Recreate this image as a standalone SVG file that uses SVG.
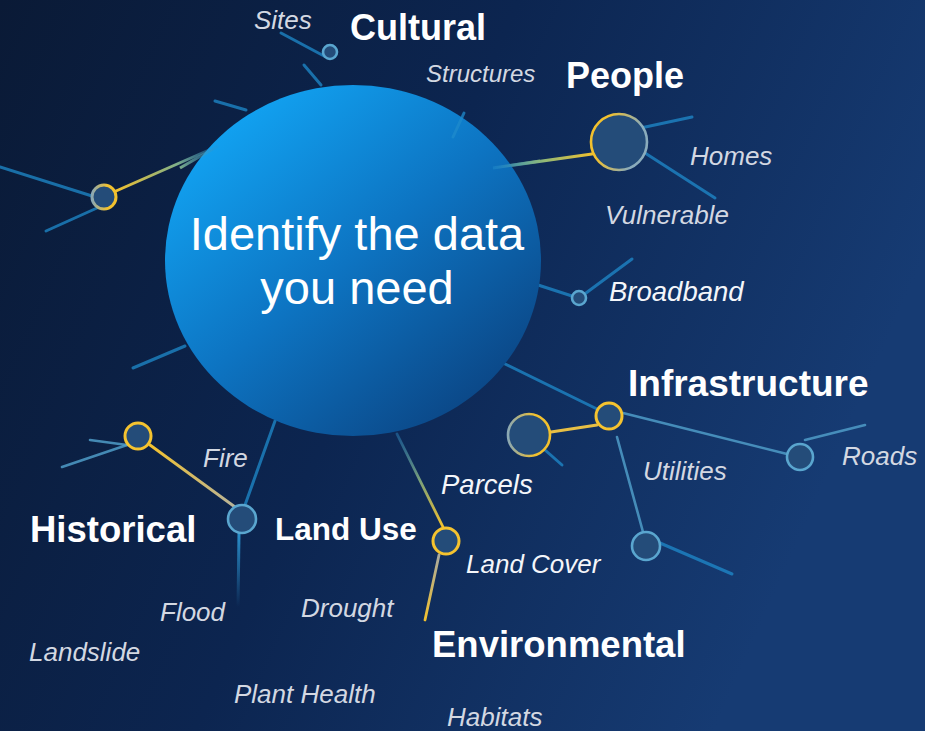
<svg xmlns="http://www.w3.org/2000/svg" width="925" height="731" viewBox="0 0 925 731">
<defs>
<linearGradient id="bg" x1="0" y1="0" x2="1" y2="0.35">
<stop offset="0" stop-color="#0a1a36"/>
<stop offset="0.5" stop-color="#0c2550"/>
<stop offset="1" stop-color="#163b73"/>
</linearGradient>
<linearGradient id="hub" x1="0.12" y1="0.08" x2="0.85" y2="0.92">
<stop offset="0" stop-color="#12a6f5"/>
<stop offset="0.5" stop-color="#0d74c2"/>
<stop offset="1" stop-color="#0b4584"/>
</linearGradient>
<linearGradient id="gLeft" gradientUnits="userSpaceOnUse" x1="116" y1="191" x2="218" y2="146">
<stop offset="0" stop-color="#f2c12e"/>
<stop offset="0.6" stop-color="#7fb08a"/>
<stop offset="1" stop-color="#2a8fd0" stop-opacity="0.2"/>
</linearGradient>
<linearGradient id="gPeople" gradientUnits="userSpaceOnUse" x1="493" y1="168" x2="593" y2="154">
<stop offset="0" stop-color="#2a9ad6" stop-opacity="0.3"/>
<stop offset="0.5" stop-color="#8fb878"/>
<stop offset="1" stop-color="#f2c12e"/>
</linearGradient>
<linearGradient id="gHist" gradientUnits="userSpaceOnUse" x1="150" y1="445" x2="235" y2="507">
<stop offset="0" stop-color="#f2c12e"/>
<stop offset="1" stop-color="#b8b49a"/>
</linearGradient>
<linearGradient id="gEnvUp" gradientUnits="userSpaceOnUse" x1="397" y1="434" x2="443" y2="527">
<stop offset="0" stop-color="#2a7fb8" stop-opacity="0.5"/>
<stop offset="0.5" stop-color="#7aa07a"/>
<stop offset="1" stop-color="#f2c12e"/>
</linearGradient>
<linearGradient id="gEnvDn" gradientUnits="userSpaceOnUse" x1="439" y1="555" x2="425" y2="620">
<stop offset="0" stop-color="#a8aaa0"/>
<stop offset="1" stop-color="#f2c12e"/>
</linearGradient>
<linearGradient id="gFlood" gradientUnits="userSpaceOnUse" x1="239" y1="533" x2="238" y2="607">
<stop offset="0" stop-color="#2a90cc"/>
<stop offset="1" stop-color="#2a90cc" stop-opacity="0"/>
</linearGradient>
<linearGradient id="gYelGrey" x1="1" y1="0" x2="0" y2="0">
<stop offset="0.35" stop-color="#f2c12e"/>
<stop offset="1" stop-color="#8aa8b4"/>
</linearGradient>
<linearGradient id="gYelGreyR" x1="0" y1="0" x2="1" y2="0.3">
<stop offset="0.3" stop-color="#f2c12e"/>
<stop offset="0.9" stop-color="#8aacbc"/>
</linearGradient>
</defs>
<style>
.line{stroke:#1f8bcc;stroke-width:3;stroke-linecap:round;fill:none;opacity:0.75}
.lineL{stroke:#4f9cc8;stroke-width:2.6;stroke-linecap:round;fill:none;opacity:0.85}
.node{fill:#244c79}
.nb{stroke:#5aa6cf;stroke-width:2.6}
.ny{stroke:#f5c32f;stroke-width:3}
.big{font-family:"Liberation Sans",Arial,sans-serif;font-weight:bold;font-size:36px;fill:#ffffff}
.it{font-family:"Liberation Sans",Arial,sans-serif;font-style:italic;font-size:26px;fill:#d3d8e2}
.itw{font-family:"Liberation Sans",Arial,sans-serif;font-style:italic;font-size:26px;fill:#f4f6fa}
.hubt{font-family:"Liberation Sans",Arial,sans-serif;font-size:47px;fill:#ffffff}
</style>
<rect width="925" height="731" fill="url(#bg)"/>

<g id="connectors">
<line class="line" x1="281" y1="33" x2="324" y2="56"/>
<line class="line" x1="304" y1="65" x2="321" y2="85"/>
<line class="line" x1="0" y1="167" x2="92" y2="196"/>
<line class="line" x1="46" y1="231" x2="97" y2="208"/>
<line x1="116" y1="191" x2="218" y2="146" stroke="url(#gLeft)" stroke-width="3" stroke-linecap="round"/>
<line class="line" x1="215" y1="101" x2="246" y2="110"/>
<line x1="493" y1="168" x2="592" y2="154" stroke="url(#gPeople)" stroke-width="3" stroke-linecap="round"/>
<line class="line" x1="636" y1="129" x2="692" y2="117"/>
<line class="line" x1="645" y1="153" x2="715" y2="198"/>
<line class="line" x1="535" y1="284" x2="572" y2="296"/>
<line class="line" x1="586" y1="293" x2="632" y2="259"/>
<line class="line" x1="133" y1="368" x2="185" y2="346"/>
<line class="line" x1="501" y1="362" x2="597" y2="409"/>
<line class="lineL" x1="623" y1="413" x2="787" y2="454"/>
<line class="lineL" x1="805" y1="440" x2="865" y2="425"/>
<line class="lineL" x1="617" y1="437" x2="643" y2="532"/>
<line class="line" x1="660" y1="543" x2="732" y2="574"/>
<line x1="551" y1="432" x2="597" y2="425" stroke="#e7bf45" stroke-width="3" stroke-linecap="round"/>
<line class="line" x1="545" y1="450" x2="562" y2="465"/>
<line class="lineL" x1="90" y1="440" x2="127" y2="445"/>
<line class="lineL" x1="62" y1="467" x2="127" y2="445"/>
<line x1="150" y1="445" x2="235" y2="507" stroke="url(#gHist)" stroke-width="2.8" stroke-linecap="round"/>
<line class="line" x1="245" y1="505" x2="275" y2="421"/>
<line x1="239" y1="533" x2="238" y2="607" stroke="url(#gFlood)" stroke-width="3"/>
<line x1="397" y1="434" x2="443" y2="527" stroke="url(#gEnvUp)" stroke-width="2.8" stroke-linecap="round"/>
<line x1="439" y1="555" x2="425" y2="620" stroke="url(#gEnvDn)" stroke-width="2.8" stroke-linecap="round"/>
</g>

<g id="hub">
<ellipse cx="353" cy="260.5" rx="188" ry="175.5" fill="url(#hub)"/>
<line class="line" x1="464" y1="113" x2="453" y2="137" opacity="0.6"/>
<line x1="493" y1="168" x2="540" y2="161" stroke="url(#gPeople)" stroke-width="3"/>
<line x1="180" y1="168" x2="218" y2="146" stroke="url(#gLeft)" stroke-width="3"/>
<text class="hubt" x="357" y="250" text-anchor="middle">Identify the data</text>
<text class="hubt" x="357" y="304" text-anchor="middle">you need</text>
</g>

<g id="cultural">
<circle class="node nb" cx="330" cy="52" r="7"/>
<text class="big" x="350" y="40">Cultural</text>
<text class="it" x="254" y="29">Sites</text>
<text class="it" x="426" y="82" style="font-size:24px">Structures</text>
</g>

<g id="left-node">
<circle class="node" cx="104" cy="197" r="12" stroke="url(#gYelGrey)" stroke-width="3"/>
</g>

<g id="people">
<circle class="node" cx="619" cy="142" r="28" stroke="url(#gYelGreyR)" stroke-width="2.6"/>
<text class="big" x="566" y="88">People</text>
<text class="it" x="690" y="165">Homes</text>
<text class="it" x="605" y="224">Vulnerable</text>
</g>

<g id="broadband">
<circle class="node nb" cx="579" cy="298" r="7"/>
<text class="itw" x="609" y="301" style="font-size:27.5px">Broadband</text>
</g>

<g id="infrastructure">
<circle class="node ny" cx="609" cy="416" r="13"/>
<text class="big" x="628" y="396" style="font-size:37px">Infrastructure</text>
</g>

<g id="roads">
<circle class="node nb" cx="800" cy="457" r="13"/>
<text class="it" x="842" y="465">Roads</text>
</g>

<g id="utilities">
<circle class="node nb" cx="646" cy="546" r="14"/>
<text class="it" x="643" y="480">Utilities</text>
</g>

<g id="parcels">
<circle class="node" cx="529" cy="435" r="21" stroke="url(#gYelGrey)" stroke-width="2.6"/>
<text class="itw" x="441" y="494" style="font-size:27.5px">Parcels</text>
</g>

<g id="historical">
<circle class="node ny" cx="138" cy="436" r="13"/>
<text class="big" x="30" y="542" style="font-size:36.5px">Historical</text>
<text class="it" x="29" y="661">Landslide</text>
</g>

<g id="hazards">
<circle class="node nb" cx="242" cy="519" r="14"/>
<text class="it" x="203" y="467">Fire</text>
<text class="it" x="160" y="621">Flood</text>
<text class="it" x="234" y="703">Plant Health</text>
</g>

<g id="land-use">
<text class="big" x="275" y="540" style="font-size:31.5px">Land Use</text>
<text class="it" x="301" y="617">Drought</text>
</g>

<g id="environmental">
<circle class="node ny" cx="446" cy="541" r="13"/>
<text class="big" x="432" y="657" style="font-size:36.5px">Environmental</text>
<text class="itw" x="466" y="573">Land Cover</text>
<text class="it" x="447" y="726" fill="#c8cedb">Habitats</text>
</g>
</svg>
